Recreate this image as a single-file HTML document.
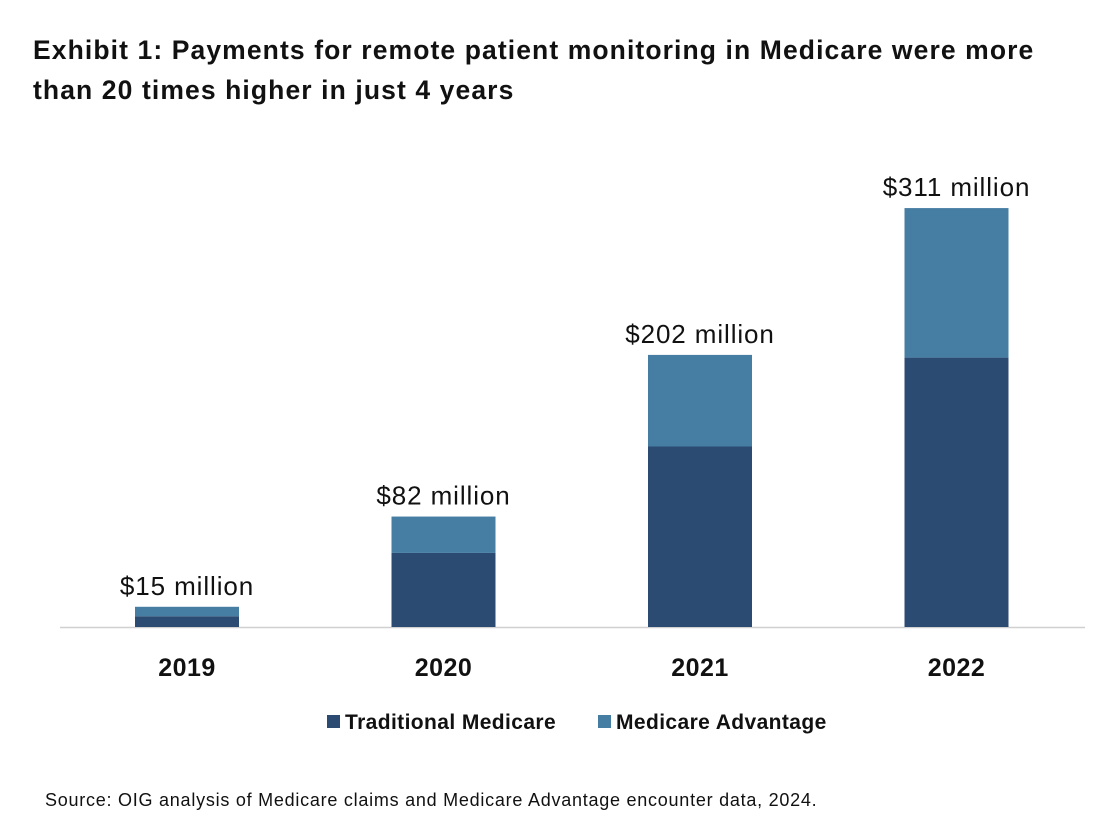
<!DOCTYPE html>
<html><head><meta charset="utf-8"><style>
body{margin:0;width:1098px;height:826px;background:#fff;font-family:"Liberation Sans",sans-serif;overflow:hidden;position:relative}
#title{position:absolute;left:33px;top:30px;font-size:26.5px;font-weight:bold;line-height:40px;color:#111;letter-spacing:1.1px;white-space:nowrap}
#src{position:absolute;left:45px;top:790px;font-size:18px;color:#111;letter-spacing:0.75px;white-space:nowrap}
svg{position:absolute;left:0;top:0}
</style></head><body>
<div id="title">Exhibit 1: Payments for remote patient monitoring in Medicare were more<br>than 20 times higher in just 4 years</div>
<svg id="chart" width="1098" height="826"></svg>
<div id="src">Source: OIG analysis of Medicare claims and Medicare Advantage encounter data, 2024.</div>
<script>
const categories=["2019","2020","2021","2022"];
const traditional=[8,55,134,200];
const advantage=[7,27,68,111];
const totalLabels=["$15 million","$82 million","$202 million","$311 million"];
const NS="http://www.w3.org/2000/svg";
const svg=document.getElementById('chart');
const base=627, scale=1.347;
const y=v=>base-v*scale;
const xc=i=>187+i*256.5;
const bw=104;
function mk(t,a){const e=document.createElementNS(NS,t);for(const k in a)e.setAttribute(k,a[k]);svg.appendChild(e);return e;}
const ax=mk('line',{x1:60,x2:1085,y1:base+0.5,y2:base+0.5,stroke:'#d0d0d0','stroke-width':1.5});


categories.forEach((c,i)=>{
  const t=traditional[i],a=advantage[i];
  const r1=mk('rect',{x:xc(i)-bw/2,y:y(t),width:bw,height:t*scale,fill:'#2c4b73'});
  
  
  const r2=mk('rect',{x:xc(i)-bw/2,y:y(t+a),width:bw,height:a*scale,fill:'#457da3'});
  
  
  const lb=mk('text',{x:xc(i),y:y(t+a)-12,'text-anchor':'middle','font-size':26,'letter-spacing':0.9,fill:'#111'});
  lb.textContent=totalLabels[i];
  
  
  const xl=mk('text',{x:xc(i),y:676,'text-anchor':'middle','font-size':25,'font-weight':'bold','letter-spacing':0.5,fill:'#111'});
  xl.textContent=c;
  
  
});
const legend=[["Traditional Medicare","#2c4b73",327],["Medicare Advantage","#457da3",598]];
legend.forEach(([n,col,x])=>{
  const s=mk('rect',{x:x,y:715,width:13,height:13,fill:col});
  
  
  const t=mk('text',{x:x+18,y:729,'font-size':21,'font-weight':'bold','letter-spacing':0.4,fill:'#111'});
  t.textContent=n;
  
  
});
</script>
</body></html>
